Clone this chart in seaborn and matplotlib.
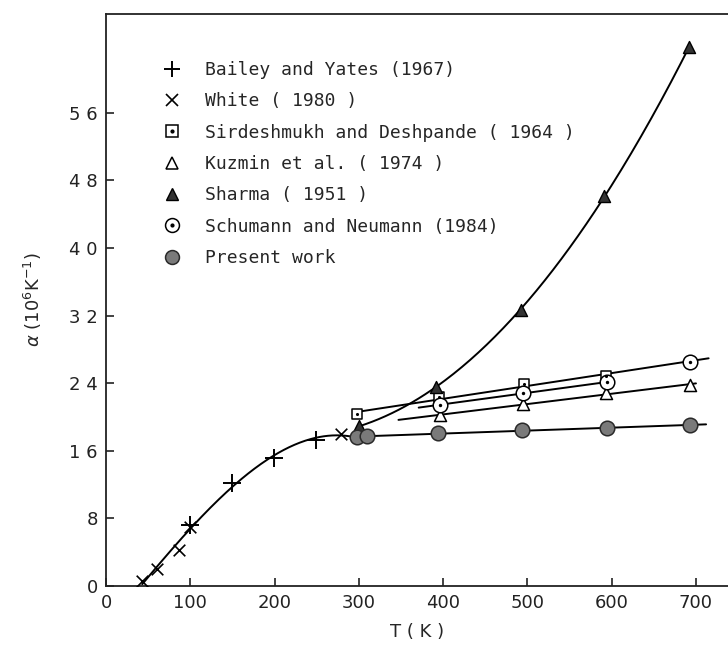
import numpy as np
import pandas as pd
import matplotlib
matplotlib.use("Agg")
import matplotlib.pyplot as plt
import seaborn as sns
from matplotlib.lines import Line2D

# values (T in K, alpha in 10^-6 K^-1)
bailey_T = [100, 149, 199, 249]
bailey_a = [7.2, 12.2, 15.2, 17.3]
white_T = [43, 60, 87, 100, 279]
white_a = [0.6, 2.0, 4.3, 7.0, 18.0]
sird_T = [298, 395, 496, 593]
sird_a = [20.3, 22.4, 23.9, 24.8]
kuzmin_T = [396, 495, 593, 693]
kuzmin_a = [20.2, 21.5, 22.8, 23.8]
sharma_T = [300, 392, 492, 591, 692]
sharma_a = [18.9, 23.6, 32.7, 46.1, 63.8]
schumann_T = [396, 495, 595, 693]
schumann_a = [21.4, 22.9, 24.1, 26.5]
present_T = [298, 310, 394, 494, 594, 693]
present_a = [17.6, 17.7, 18.1, 18.5, 18.7, 19.0]

# extent of the drawn curves
low_span = (43, 298)
sharma_span = (300, 692)
sird_span = (298, 715)
schumann_span = (371, 600)
kuzmin_span = (347, 700)
present_span = (298, 712)

labels = ["Bailey and Yates (1967)", "White ( 1980 )",
          "Sirdeshmukh and Deshpande ( 1964 )", "Kuzmin et al. ( 1974 )",
          "Sharma ( 1951 )", "Schumann and Neumann (1984)", "Present work"]

x_ticks = [0, 100, 200, 300, 400, 500, 600, 700]
y_ticks = [0, 8, 16, 24, 32, 40, 48, 56]
y_ticklabels = ["0", "8", "1 6", "2 4", "3 2", "4 0", "4 8", "5 6"]


def fit_curve(T, a, span, deg):
    T = np.asarray(T, float)
    a = np.asarray(a, float)
    keep = (T >= span[0] - 1) & (T <= span[1] + 1)
    coef = np.polyfit(T[keep], a[keep], deg)
    tt = np.linspace(span[0], span[1], 200)
    return pd.DataFrame({"T": tt, "a": np.polyval(coef, tt)})


sns.set_style("ticks")
plt.rcParams["font.family"] = ["DejaVu Sans"]

fig = plt.figure(figsize=(7.28, 6.47), dpi=100)
ax = fig.add_axes([106 / 728, 61 / 647, 622 / 728, 572 / 647])

curves = [
    fit_curve(bailey_T + white_T, bailey_a + white_a, low_span, 3),
    fit_curve(sharma_T, sharma_a, sharma_span, 2),
    fit_curve(sird_T, sird_a, sird_span, 1),
    fit_curve(schumann_T, schumann_a, schumann_span, 1),
    fit_curve(kuzmin_T, kuzmin_a, kuzmin_span, 1),
    fit_curve(present_T, present_a, present_span, 1),
]
for c in curves:
    sns.lineplot(data=c, x="T", y="a", ax=ax, color="black", lw=1.4,
                 sort=False, estimator=None)

sns.scatterplot(x=bailey_T, y=bailey_a, ax=ax, marker="+", s=150,
                color="black", linewidth=1.4, zorder=3)
sns.scatterplot(x=white_T, y=white_a, ax=ax, marker="x", s=70,
                color="black", linewidth=1.2, zorder=3)
sns.scatterplot(x=sird_T, y=sird_a, ax=ax, marker="s", s=55,
                facecolor="white", edgecolor="black", linewidth=1.1, zorder=3)
sns.scatterplot(x=sird_T, y=sird_a, ax=ax, marker="o", s=5,
                facecolor="black", edgecolor="black", linewidth=0, zorder=4)
sns.scatterplot(x=kuzmin_T, y=kuzmin_a, ax=ax, marker="^", s=75,
                facecolor="white", edgecolor="black", linewidth=1.1, zorder=3)
sns.scatterplot(x=sharma_T, y=sharma_a, ax=ax, marker="^", s=75,
                facecolor="#333333", edgecolor="black", linewidth=1.0, zorder=3)
sns.scatterplot(x=schumann_T, y=schumann_a, ax=ax, marker="o", s=110,
                facecolor="white", edgecolor="black", linewidth=1.1, zorder=3)
sns.scatterplot(x=schumann_T, y=schumann_a, ax=ax, marker="o", s=6,
                facecolor="black", edgecolor="black", linewidth=0, zorder=4)
sns.scatterplot(x=present_T, y=present_a, ax=ax, marker="o", s=110,
                facecolor="#7a7a7a", edgecolor="#2a2a2a", linewidth=1.1, zorder=3)

ax.set_xlim(0, 738)
ax.set_ylim(0, 67.7)
ax.set_xticks(x_ticks)
ax.set_xticklabels([str(t) for t in x_ticks])
ax.set_yticks(y_ticks)
ax.set_yticklabels(y_ticklabels)
ax.tick_params(direction="in", length=6, width=1.2, labelsize=13, pad=6,
               colors="#222222")
ax.spines["right"].set_visible(False)
for s in ["left", "bottom", "top"]:
    ax.spines[s].set_linewidth(1.3)
    ax.spines[s].set_color("#222222")

ax.set_xlabel("T ( K )", fontsize=13, labelpad=8)
ax.set_ylabel(r"$\alpha$ (10$^{6}$K$^{-1}$)", fontsize=13, labelpad=18)

handles = [
    Line2D([], [], ls="", marker="+", color="black", ms=11, mew=1.4),
    Line2D([], [], ls="", marker="x", color="black", ms=8, mew=1.2),
    (Line2D([], [], ls="", marker="s", mfc="white", mec="black", ms=8, mew=1.1),
     Line2D([], [], ls="", marker="o", color="black", ms=2)),
    Line2D([], [], ls="", marker="^", mfc="white", mec="black", ms=9, mew=1.1),
    Line2D([], [], ls="", marker="^", mfc="#333333", mec="black", ms=9),
    (Line2D([], [], ls="", marker="o", mfc="white", mec="black", ms=10, mew=1.1),
     Line2D([], [], ls="", marker="o", color="black", ms=2)),
    Line2D([], [], ls="", marker="o", mfc="#7a7a7a", mec="#2a2a2a", ms=10, mew=1.1),
]
ax.legend(handles, labels, loc="upper left", bbox_to_anchor=(0.0916, 0.918),
          frameon=False, borderaxespad=0, borderpad=0, handlelength=1.0,
          handletextpad=1.33, labelspacing=0.74,
          prop={"family": "DejaVu Sans Mono", "size": 13})

fig.savefig("out.png", dpi=100)
